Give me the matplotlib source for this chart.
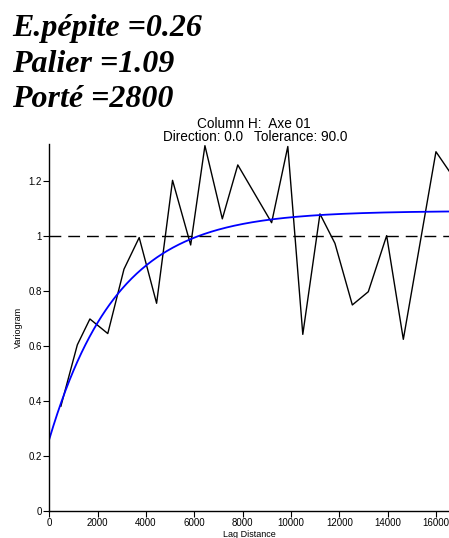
import numpy as np
import matplotlib.pyplot as plt

lag = [480, 1160, 1680, 2420, 3090, 3720, 4440, 5100, 5850, 6440, 7160,
       7800, 9200, 9870, 10490, 11200, 11820, 12540, 13200, 13960, 14650,
       16000, 16700]
gamma = [0.38, 0.603, 0.697, 0.644, 0.878, 0.993, 0.754, 1.201, 0.966,
         1.327, 1.061, 1.257, 1.047, 1.324, 0.641, 1.079, 0.972, 0.748,
         0.796, 1.0, 0.623, 1.305, 1.215]

# exponential model parameters
nugget = 0.26
sill = 1.09
a = 2800
variance = 1.0

h = np.linspace(0, 16600, 400)
model = nugget + (sill - nugget) * (1 - np.exp(-h / a))

W, H = 449, 538
fig = plt.figure(figsize=(W / 100, H / 100), dpi=100)
ax = fig.add_axes([49.3 / W, 27.3 / H, 1 - 49.3 / W, (510.7 - 144.3) / H])

ax.plot(lag, gamma, color='black', lw=1.0, clip_on=True)
ax.plot(h, model, color='#0000ff', lw=1.3)
ax.axhline(variance, color='black', lw=1.0, dashes=(8.5, 5))

ax.set_xlim(0, 16540)
ax.set_ylim(0, 1.332)
ax.set_xticks([0, 2000, 4000, 6000, 8000, 10000, 12000, 14000, 16000])
ax.set_yticks([0, 0.2, 0.4, 0.6, 0.8, 1, 1.2])
ax.set_yticklabels(['0', '0.2', '0.4', '0.6', '0.8', '1', '1.2'])
for s in ['top', 'right']:
    ax.spines[s].set_visible(False)
for s in ['left', 'bottom']:
    ax.spines[s].set_linewidth(1.0)
ax.tick_params(labelsize=7, length=4, width=0.8, pad=1.5)
for lab in ax.get_xticklabels() + ax.get_yticklabels():
    lab.set_family('Liberation Sans')
ax.set_xlabel('Lag Distance', fontsize=6.5, family='Liberation Sans', labelpad=1)
ax.set_ylabel('Variogram', fontsize=6.5, family='Liberation Sans', labelpad=4)

fig.text(254 / W, 1 - 124.5 / H, 'Column H:  Axe 01', ha='center', va='center',
         fontsize=9.8, family='Liberation Sans')
fig.text(255 / W, 1 - 137 / H, 'Direction: 0.0   Tolerance: 90.0', ha='center',
         va='center', fontsize=9.8, family='Liberation Sans')

params = ['E.pépite =%g' % nugget, 'Palier =%g' % sill, 'Porté =%d' % a]
for i, t in enumerate(params):
    fig.text(12 / W, 1 - (36 + 35.5 * i) / H, t, ha='left', va='baseline',
             fontsize=23, family='Liberation Serif', weight='bold', style='italic')

fig.savefig('out.png', dpi=100)
